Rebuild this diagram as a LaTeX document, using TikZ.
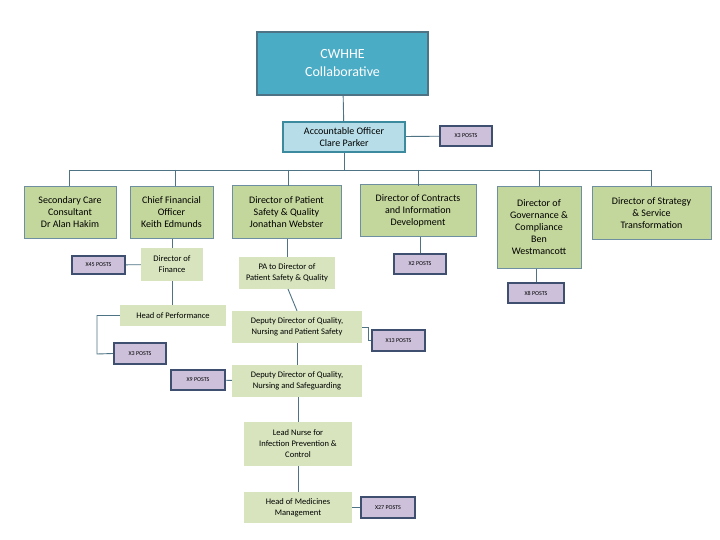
\documentclass[tikz,border=0pt]{standalone}
\usepackage{fontspec}
\setmainfont{Carlito}
\begin{document}
\begin{tikzpicture}[x=1pt,y=-1pt,
 base/.style={align=center,inner sep=1pt,font=\fontsize{10}{12}\selectfont},
 dir/.style={base,fill=green1,draw=edge,line width=1pt},
 sub/.style={base,fill=green2,font=\fontsize{8.5}{11}\selectfont},
 posts/.style={base,fill=purp,draw=navy,line width=2pt,font=\fontsize{6}{7}\selectfont},
 ln/.style={draw=lnc,line width=0.9pt}]
\definecolor{green1}{HTML}{C3D69B}
\definecolor{green2}{HTML}{D7E4BD}
\definecolor{edge}{HTML}{6E8FA0}
\definecolor{purp}{HTML}{CCC0DA}
\definecolor{navy}{HTML}{3F4F6F}
\definecolor{lnc}{HTML}{4E7384}
\definecolor{teal}{HTML}{4BACC6}
\definecolor{lteal}{HTML}{B7DEE8}
\useasboundingbox (0,0) rectangle (720,540);
\fill[white] (0,0) rectangle (720,540);
% top
\node[base,fill=teal,draw=lnc,line width=1.5pt,text=white,minimum width=171,minimum height=63,font=\fontsize{14}{18}\selectfont] (top) at (342.5,63.5) {CWHHE\\Collaborative};
\node[base,fill=lteal,draw=teal!80!black,line width=2pt,minimum width=122,minimum height=30] (ao) at (344,137) {Accountable Officer\\Clare Parker};
\node[posts,minimum width=52,minimum height=20] (p3) at (466,136) {X3 POSTS};
% directors
\node[dir,minimum width=92,minimum height=51] (sc) at (70,212.5) {Secondary Care\\Consultant\\Dr Alan Hakim};
\node[dir,minimum width=83,minimum height=51] (cfo) at (171.5,212.5) {Chief Financial\\Officer\\Keith Edmunds};
\node[dir,minimum width=109,minimum height=52] (dps) at (286.5,212) {Director of Patient\\Safety \& Quality\\Jonathan Webster};
\node[dir,minimum width=116,minimum height=51] (dc) at (418,210.5) {Director of Contracts\\and Information\\Development};
\node[dir,minimum width=84,minimum height=81] (dg) at (539,227.5) {Director of\\Governance \&\\Compliance\\Ben\\Westmancott};
\node[dir,minimum width=119,minimum height=52] (ds) at (651.5,213) {Director of Strategy\\\& Service\\Transformation};
% sub boxes
\node[sub,minimum width=62,minimum height=33] (dof) at (172,264.5) {Director of\\Finance};
\node[posts,minimum width=53,minimum height=18] (p45) at (98.5,265) {X45 POSTS};
\node[sub,minimum width=96,minimum height=32] (pa) at (287,273) {PA to Director of\\Patient Safety \& Quality};
\node[posts,minimum width=52,minimum height=20] (p2) at (420,264) {X2 POSTS};
\node[posts,minimum width=56,minimum height=20] (p8) at (536,293) {X8 POSTS};
\node[sub,minimum width=106,minimum height=21] (hp) at (173,315.5) {Head of Performance};
\node[posts,minimum width=52,minimum height=21] (px3) at (140,353.5) {X3 POSTS};
\node[sub,minimum width=130,minimum height=32] (dd1) at (297,327) {Deputy Director of Quality,\\Nursing and Patient Safety};
\node[posts,minimum width=53,minimum height=21] (p13) at (398.5,340.5) {X13 POSTS};
\node[sub,minimum width=130,minimum height=32] (dd2) at (297,381) {Deputy Director of Quality,\\Nursing and Safeguarding};
\node[posts,minimum width=54,minimum height=20] (p9) at (198,380) {X9 POSTS};
\node[sub,minimum width=108,minimum height=44] (ln) at (298,444) {Lead Nurse for\\Infection Prevention \&\\Control};
\node[sub,minimum width=108,minimum height=31] (hm) at (298,507.5) {Head of Medicines\\Management};
\node[posts,minimum width=54,minimum height=21] (p27) at (388,507.5) {X27 POSTS};
% connectors
\coordinate (b1) at (69,170); \coordinate (b2) at (651,170);
\draw[ln] (top) -- (ao);
\draw[ln] (ao) -- (p3);
\draw[ln] (ao.south) -- (344,170);
\draw[ln] (b1) -- (b2);
\foreach \n/\x in {sc/69,cfo/175,dps/288,dc/418,dg/539,ds/651}
  \draw[ln] (\x,170) -- (\x,186);
\draw[ln] (cfo.south -| dof.north) -- (dof.north);
\draw[ln] (p45) -- (dof);
\draw[ln] (dof.south) -- (hp.north -| dof.south);
\draw[ln] (dps.south -| pa.north) -- (pa.north);
\draw[ln] (dc.south -| p2.north) -- (p2.north);
\draw[ln] (dg.south -| p8.north) -- (p8.north);
\draw[ln] (hp.west) -- (97,315.5) -- (97,354) -- (px3.west);
\draw[ln] (288,289) -- (dd1.north);
\draw[ln] (dd1.east) -- (368,327) -- (368,340.5) -- (p13.west);
\draw[ln] (dd1) -- (dd2);
\draw[ln] (p9) -- (dd2);
\draw[ln] (dd2.south -| ln.north) -- (ln.north);
\draw[ln] (ln) -- (hm);
\draw[ln] (hm) -- (p27);
\end{tikzpicture}
\end{document}
